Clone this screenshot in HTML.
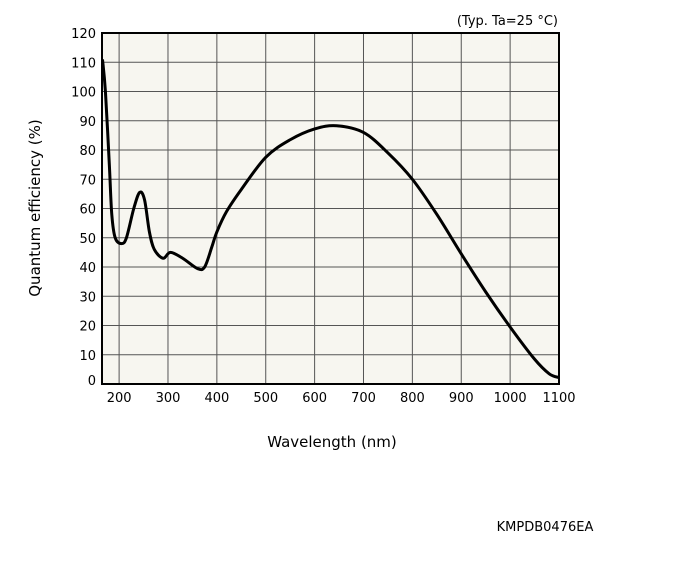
<!DOCTYPE html>
<html><head><meta charset="utf-8"><style>
body{margin:0;background:#fff;width:676px;height:574px;overflow:hidden}
svg text{font-family:"DejaVu Sans","Liberation Sans",sans-serif;fill:#000}
</style></head><body>
<svg id="chart" width="676" height="574" viewBox="0 0 676 574">
<rect x="102" y="33" width="457" height="351" fill="#f7f6f0"/>
<g id="grid"></g>
<g id="ticks" font-size="13"></g>
<path id="curve" fill="none" stroke="#000" stroke-width="3" stroke-linejoin="round"/>
<rect x="102" y="33" width="457" height="351" fill="none" stroke="#000" stroke-width="2"/>
<text x="558" y="25" font-size="13" text-anchor="end">(Typ. Ta=25 °C)</text>
<text x="332" y="447" font-size="15" text-anchor="middle">Wavelength (nm)</text>
<text transform="translate(40,208) rotate(-90)" font-size="15" text-anchor="middle">Quantum efficiency (%)</text>
<text x="545" y="531" font-size="13" text-anchor="middle">KMPDB0476EA</text>
</svg>
<script>
const xTicks=[200,300,400,500,600,700,800,900,1000,1100];
const yTicks=[0,10,20,30,40,50,60,70,80,90,100,110,120];
const wavelengths=[166,172,180,185,192,205,215,230,242,252,262,272,290,305,330,360,375,390,400,420,450,500,550,600,645,700,750,800,850,900,950,1000,1050,1080,1100];
const efficiency=[111,100,75,58,50,48,50,60,65.5,63,52,46,43,45,43,39.5,40,47,52,59,66.5,77.5,83.5,87.2,88.3,86,79,70,58,44.5,31.5,19.5,8.5,3.5,2.2];
const X0=165,X1=1100,PX0=102,PX1=559,PY0=384,PY1=33;
const sx=v=>PX0+(v-X0)/(X1-X0)*(PX1-PX0);
const sy=v=>PY0-v/120*(PY0-PY1);
const NS='http://www.w3.org/2000/svg';
const grid=document.getElementById('grid'),ticks=document.getElementById('ticks');
xTicks.forEach(t=>{
 const l=document.createElementNS(NS,'line');
 
 
 l.setAttribute('x1',sx(t));l.setAttribute('x2',sx(t));l.setAttribute('y1',PY1);l.setAttribute('y2',PY0);
 l.setAttribute('stroke','#555');l.setAttribute('stroke-width','1');grid.appendChild(l);
 const tx=document.createElementNS(NS,'text');
 
 
 tx.setAttribute('x',sx(t));tx.setAttribute('y',402);tx.setAttribute('text-anchor','middle');
 tx.textContent=t;ticks.appendChild(tx);
});
yTicks.forEach(t=>{
 const l=document.createElementNS(NS,'line');
 
 
 l.setAttribute('x1',PX0);l.setAttribute('x2',PX1);l.setAttribute('y1',sy(t));l.setAttribute('y2',sy(t));
 l.setAttribute('stroke','#555');l.setAttribute('stroke-width','1');grid.appendChild(l);
 const tx=document.createElementNS(NS,'text');
 
 
 tx.setAttribute('x',96);tx.setAttribute('y',Math.min(sy(t)+5,385));tx.setAttribute('text-anchor','end');
 tx.textContent=t;ticks.appendChild(tx);
});
const pts=wavelengths.map((w,i)=>[sx(w),sy(efficiency[i])]);
let d='M'+pts[0][0]+','+pts[0][1];
for(let i=0;i<pts.length-1;i++){
 const p0=pts[Math.max(0,i-1)],p1=pts[i],p2=pts[i+1],p3=pts[Math.min(pts.length-1,i+2)];
 const c1=[p1[0]+(p2[0]-p0[0])/6,p1[1]+(p2[1]-p0[1])/6];
 const c2=[p2[0]-(p3[0]-p1[0])/6,p2[1]-(p3[1]-p1[1])/6];
 d+=` C${c1[0]},${c1[1]} ${c2[0]},${c2[1]} ${p2[0]},${p2[1]}`;
}
document.getElementById('curve').setAttribute('d',d);
</script>
</body></html>
